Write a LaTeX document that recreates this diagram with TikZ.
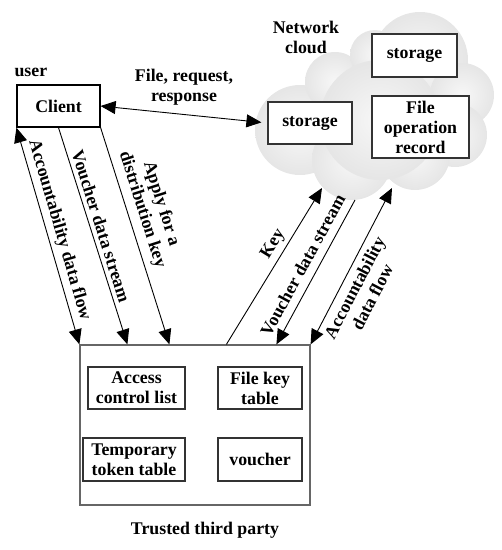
\documentclass[tikz,border=0pt]{standalone}
\usepackage{fontspec}
\setmainfont{Liberation Serif}
\usetikzlibrary{positioning,arrows.meta,calc}

\begin{document}
\begin{tikzpicture}[
  x=1pt, y=-1pt,
  font=\fontsize{17.8}{20}\selectfont\bfseries,
  box/.style={draw=black!80, line width=1.2pt, fill=white, align=center, inner sep=2pt},
  arr/.style={line width=0.9pt, -{Triangle[length=15pt,width=13pt]}},
  darr/.style={line width=0.9pt, {Triangle[length=15pt,width=13pt]}-{Triangle[length=15pt,width=13pt]}},
  lbl/.style={sloped, align=center, inner sep=4pt}
]
\useasboundingbox (0,0) rectangle (502,550);
% cloud
\foreach \cx/\cy/\r in {300/130/45, 335/82/30, 375/55/25, 420/60/48, 462/95/32,
                        455/135/32, 415/155/35, 352/160/40, 380/120/60}
  \shade[inner color=gray!6, outer color=gray!20] (\cx,\cy) circle[radius=\r pt];
\node[align=center] (net) at (306,37) {Network\\cloud};
\node[box, minimum width=84pt, minimum height=42pt] (store1) at (310,123) {storage};
\node[box, minimum width=85pt, minimum height=43pt] (store2) at (414.5,55.5) {storage};
\node[box, minimum width=97pt, minimum height=62pt] (record) at (420.5,127) {File\\operation\\record};
% user side
\node[box, draw=black, minimum width=83pt, minimum height=42pt] (client) at (58.5,106) {Client};
\node[above right=5pt and -4pt of client.north west, inner sep=2pt] (user) {user};
% trusted third party
\node[box, draw=black!60, minimum width=230pt, minimum height=160pt] (ttp) at (195,425) {};
\node[box, minimum width=97pt, minimum height=42pt] (acl) at (136.5,388) {Access\\control list};
\node[box, minimum width=84pt, minimum height=42pt] (fkt) at (260,388) {File key\\table};
\node[box, minimum width=102pt, minimum height=43pt] (ttt) at (134,459.5) {Temporary\\token table};
\node[box, minimum width=84pt, minimum height=43pt] (vch) at (260,459.5) {voucher};
\node[below=13pt of ttp, xshift=10pt] (ttplbl) {Trusted third party};
% connector ends
\coordinate (tV) at ($(ttp.north west)+(48,0)$);
\coordinate (tD) at ($(ttp.north west)+(90,0)$);
\coordinate (tK) at ($(ttp.north west)+(147,0)$);
\coordinate (tW) at ($(ttp.north west)+(197,0)$);
\coordinate (cK) at (322,188);
\coordinate (cV) at (355,200);
\coordinate (cA) at (392,188);
% flows
\draw[darr, shorten >=6pt] (client.east) -- node[above=5pt, align=center] {File, request,\\response} (store1.west);
\draw[darr] (client.south west) -- node[lbl, above, pos=0.49] {Accountability data flow} (ttp.north west);
\draw[arr] (client.south) -- node[lbl, above, pos=0.47] {Voucher data stream} (tV);
\draw[arr] (client.south east) -- node[lbl, above=2pt, pos=0.4] {Apply for a\\distribution key} (tD);
\draw[arr] (tK) -- node[lbl, above, pos=0.6] {Key} (cK);
\draw[arr] (cV) -- node[lbl, above=4pt, pos=0.5] {Voucher data stream} (tW);
\draw[darr] (ttp.north east) -- node[lbl, below=2pt, pos=0.4] {Accountability\\data flow} (cA);
\end{tikzpicture}
\end{document}
